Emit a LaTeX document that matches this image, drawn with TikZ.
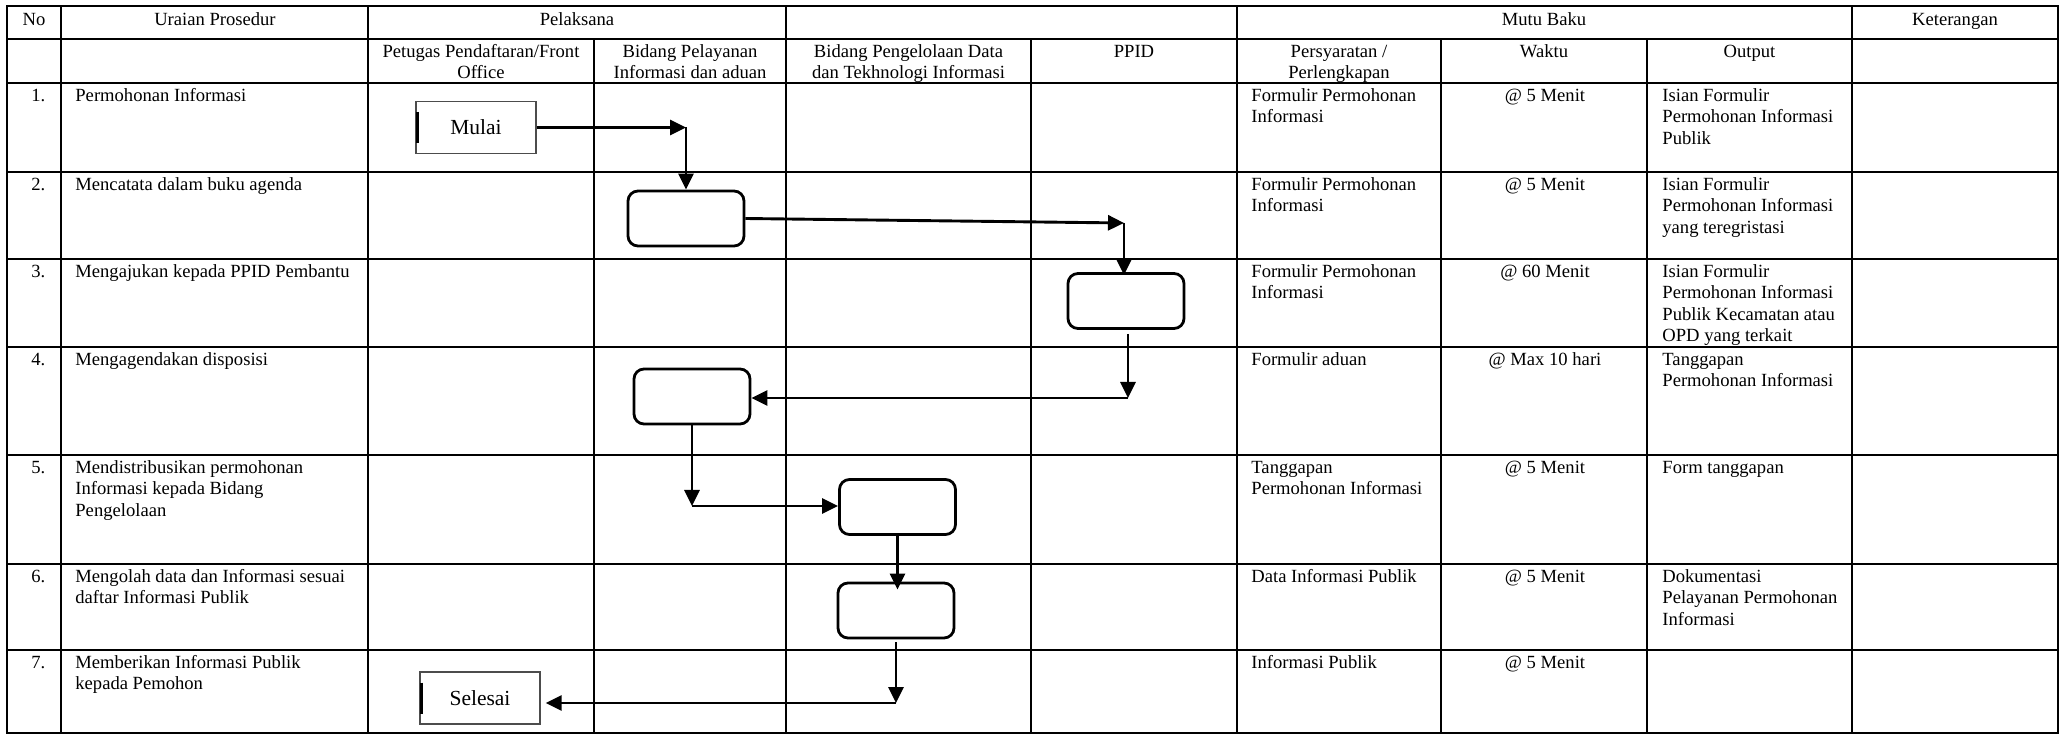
\documentclass[tikz,border=0pt]{standalone}
\usepackage{fontspec}
\setmainfont{Liberation Serif}
\usetikzlibrary{arrows.meta,calc}
\newcommand\bodyfont{\fontsize{9.3pt}{10.75pt}\selectfont}
\newcommand\termfont{\fontsize{10.75pt}{12pt}\selectfont}
\newcommand\fst{\rule{0pt}{7.5pt}}
\begin{document}
\begin{tikzpicture}[x=0.5pt,y=-0.5pt,
  tline/.style={line width=1.4pt},
  txt/.style={anchor=north west, align=left, inner sep=0pt, font=\bodyfont},
  ctxt/.style={anchor=north, align=center, inner sep=0pt, font=\bodyfont},
  proc/.style={draw, line width=1.4pt, rounded corners=5pt, minimum width=58pt, minimum height=27.5pt, inner sep=0pt},
  term/.style={draw=black!70, line width=0.6pt, minimum width=60pt, minimum height=26pt, inner sep=0pt, font=\termfont},
  bar/.style={line width=1.6pt},
  arr/.style={line width=1.45pt, -{Triangle[length=8pt,width=7.5pt]}}]
\useasboundingbox (0,0) rectangle (2063,737);
% table
\draw[tline] (7,6) rectangle (2058,733);
\foreach \y in {39,83,172,259,347,455,564,650}
  \draw[tline] (7,\y) -- (2058,\y);
\foreach \x in {61,368,786,1237,1852}
  \draw[tline] (\x,6) -- (\x,733);
\foreach \x in {594,1031,1441,1647}
  \draw[tline] (\x,39) -- (\x,733);
% header row 1
\node[ctxt] (hNo) at (34,10) {\fst No};
\node[ctxt] (hUr) at (215,10) {\fst Uraian Prosedur};
\node[ctxt] (hPel) at (577,10) {\fst Pelaksana};
\node[ctxt] (hMutu) at (1544,10) {\fst Mutu Baku};
\node[ctxt] (hKet) at (1955,10) {\fst Keterangan};
% header row 2
\node[ctxt] (hPet) at (481,42) {\fst Petugas Pendaftaran/Front\\Office};
\node[ctxt] (hBPI) at (690,42) {\fst Bidang Pelayanan\\Informasi dan aduan};
\node[ctxt] (hBPD) at (908.5,42) {\fst Bidang Pengelolaan Data\\dan Tekhnologi Informasi};
\node[ctxt] (hPPID) at (1134,42) {\fst PPID};
\node[ctxt] (hPers) at (1339,42) {\fst Persyaratan /\\Perlengkapan};
\node[ctxt] (hWak) at (1544,42) {\fst Waktu};
\node[ctxt] (hOut) at (1749.5,42) {\fst Output};
% row 1
\node[txt] (n1) at (31,86) {\fst 1.};
\node[txt] (u1) at (75,86) {\fst Permohonan Informasi};
\node[txt] (p1) at (1251,86) {\fst Formulir Permohonan\\Informasi};
\node[ctxt] (w1) at (1545,86) {\fst @ 5 Menit};
\node[txt] (o1) at (1662,86) {\fst Isian Formulir\\Permohonan Informasi\\Publik};
% row 2
\node[txt] (n2) at (31,175) {\fst 2.};
\node[txt] (u2) at (75,175) {\fst Mencatata dalam buku agenda};
\node[txt] (p2) at (1251,175) {\fst Formulir Permohonan\\Informasi};
\node[ctxt] (w2) at (1545,175) {\fst @ 5 Menit};
\node[txt] (o2) at (1662,175) {\fst Isian Formulir\\Permohonan Informasi\\yang teregristasi};
% row 3
\node[txt] (n3) at (31,262) {\fst 3.};
\node[txt] (u3) at (75,262) {\fst Mengajukan kepada PPID Pembantu};
\node[txt] (p3) at (1251,262) {\fst Formulir Permohonan\\Informasi};
\node[ctxt] (w3) at (1545,262) {\fst @ 60 Menit};
\node[txt] (o3) at (1662,262) {\fst Isian Formulir\\Permohonan Informasi\\Publik Kecamatan atau\\OPD yang terkait};
% row 4
\node[txt] (n4) at (31,350) {\fst 4.};
\node[txt] (u4) at (75,350) {\fst Mengagendakan disposisi};
\node[txt] (p4) at (1251,350) {\fst Formulir aduan};
\node[ctxt] (w4) at (1545,350) {\fst @ Max 10 hari};
\node[txt] (o4) at (1662,350) {\fst Tanggapan\\Permohonan Informasi};
% row 5
\node[txt] (n5) at (31,458) {\fst 5.};
\node[txt] (u5) at (75,458) {\fst Mendistribusikan permohonan\\Informasi kepada Bidang\\Pengelolaan};
\node[txt] (p5) at (1251,458) {\fst Tanggapan\\Permohonan Informasi};
\node[ctxt] (w5) at (1545,458) {\fst @ 5 Menit};
\node[txt] (o5) at (1662,458) {\fst Form tanggapan};
% row 6
\node[txt] (n6) at (31,567) {\fst 6.};
\node[txt] (u6) at (75,567) {\fst Mengolah data dan Informasi sesuai\\daftar Informasi Publik};
\node[txt] (p6) at (1251,567) {\fst Data Informasi Publik};
\node[ctxt] (w6) at (1545,567) {\fst @ 5 Menit};
\node[txt] (o6) at (1662,567) {\fst Dokumentasi\\Pelayanan Permohonan\\Informasi};
% row 7
\node[txt] (n7) at (31,653) {\fst 7.};
\node[txt] (u7) at (75,653) {\fst Memberikan Informasi Publik\\kepada Pemohon};
\node[txt] (p7) at (1251,653) {\fst Informasi Publik};
\node[ctxt] (w7) at (1545,653) {\fst @ 5 Menit};
% flow nodes
\node[term] (mulai) at (476,127.5) {Mulai};
\node[proc] (b2) at (686,218.5) {};
\node[proc] (b3) at (1126,301) {};
\node[proc] (b4) at (692,396.5) {};
\node[proc] (b5) at (897.5,507) {};
\node[proc] (b6) at (896,610.5) {};
\node[term] (selesai) at (480,698) {Selesai};
\draw[bar] ([xshift=1pt,yshift=7.75pt]mulai.west) -- ([xshift=1pt,yshift=-7.75pt]mulai.west);
\draw[bar] ([xshift=1pt,yshift=7.75pt]selesai.west) -- ([xshift=1pt,yshift=-7.75pt]selesai.west);
% connectors
\coordinate (c1) at (686,127.5);
\coordinate (c2) at (1124,223);
\coordinate (c3) at (1128,398);
\coordinate (c4) at (692,506);
\coordinate (c6) at (896,703);
\draw[arr] (mulai.east) -- (c1);
\draw[arr] (c1) -- (b2.north);
\draw[arr] (b2.east) -- (c2);
\draw[arr, shorten >=-1.5pt] (c2) -- (c2 |- b3.north);
\draw[arr, shorten <=2pt] (b3.south -| c3) -- (c3);
\draw[arr] (c3) -- (c3 -| b4.east);
\draw[arr] (b4.south) -- (c4);
\draw[arr] (c4) -- (c4 -| b5.west);
\draw[arr, shorten >=-4pt] (b5.south) -- (b5.south |- b6.north);
\draw[arr, shorten <=1.5pt] (b6.south) -- (c6);
\draw[arr, shorten >=2.5pt] (c6) -- (c6 -| selesai.east);
\end{tikzpicture}
\end{document}
